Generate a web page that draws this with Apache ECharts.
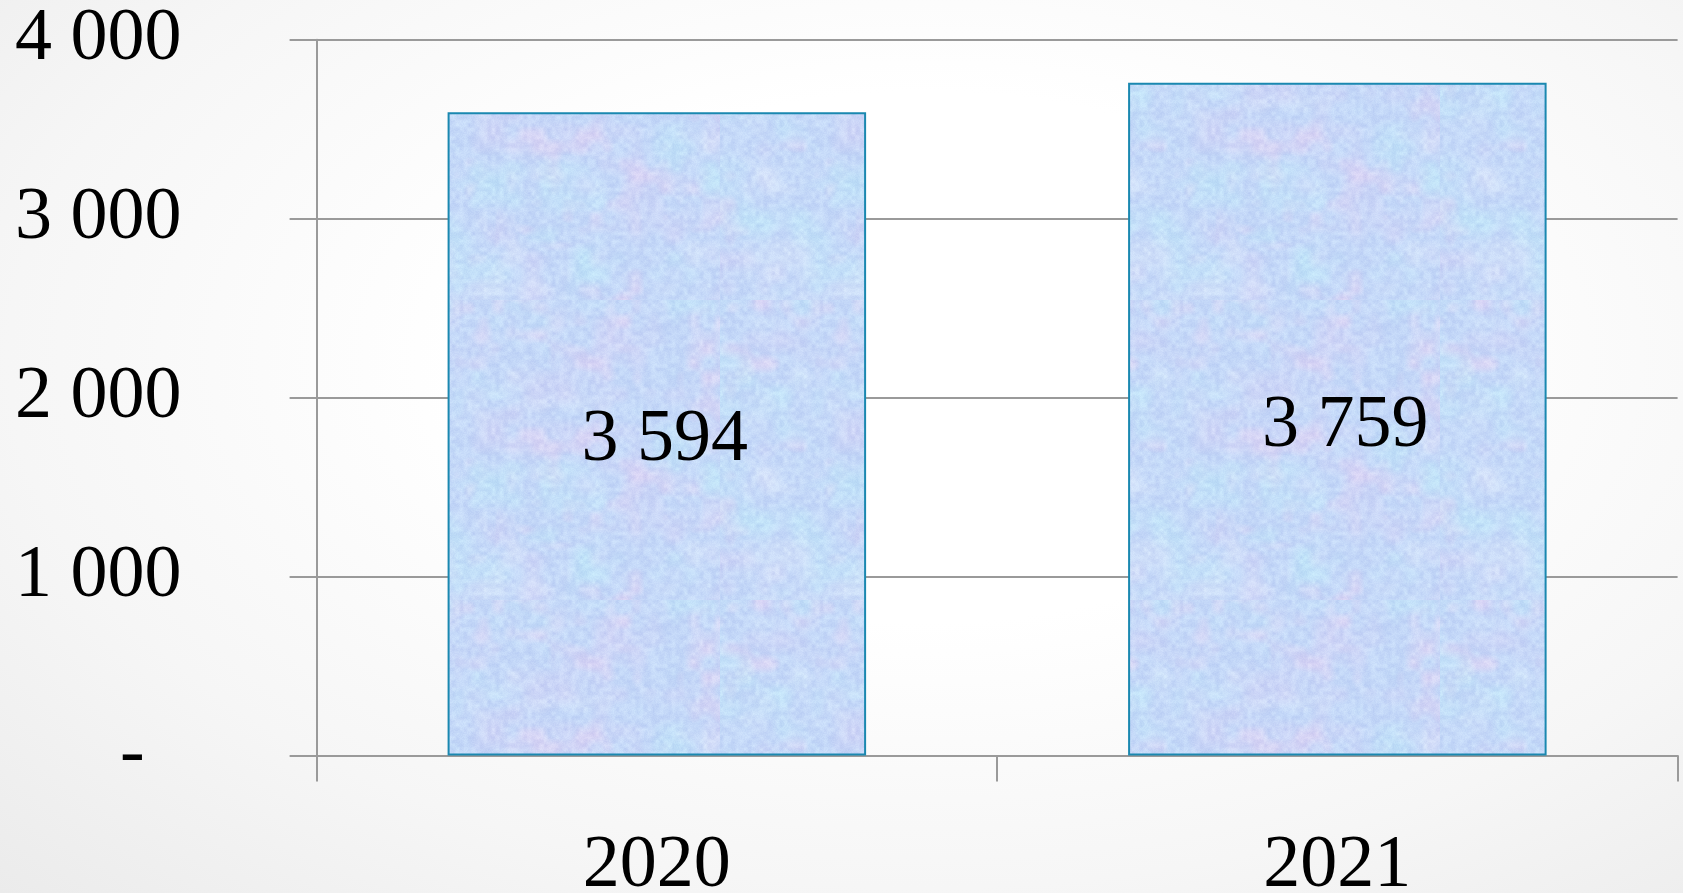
<!DOCTYPE html>
<html>
<head>
<meta charset="utf-8">
<script src="https://cdn.jsdelivr.net/npm/echarts@6/dist/echarts.min.js"></script>
<style>
html,body{margin:0;padding:0;width:1683px;height:893px;overflow:hidden;
background: radial-gradient(ellipse at 55% 40%, #ffffff 0%, #ffffff 35%, #f6f6f6 70%, #ebebeb 100%);}
#chart{width:1683px;height:893px;}
</style>
</head>
<body>
<div id="chart"></div>
<script>
const categories = ['2020', '2021'];
const values = [3594, 3759];
const yTicks = [0, 1000, 2000, 3000, 4000];

function makeTexture() {
  const c = document.createElement('canvas');
  const W = 360, H = 300;
  c.width = W; c.height = H;
  const ctx = c.getContext('2d');
  const img = ctx.createImageData(W, H);
  const cols = [
    [196, 216, 248], // blue
    [214, 208, 245], // lavender
    [232, 210, 242], // pink
    [190, 232, 248], // cyan
    [222, 232, 250]  // pale
  ];
  function hash(x, y) {
    const s = Math.sin(x * 12.9898 + y * 78.233) * 43758.5453;
    return s - Math.floor(s);
  }
  function smooth(x, y, s) {
    const xi = Math.floor(x / s), yi = Math.floor(y / s);
    const fx = x / s - xi, fy = y / s - yi;
    const ux = fx * fx * (3 - 2 * fx), uy = fy * fy * (3 - 2 * fy);
    const a = hash(xi, yi), b = hash(xi + 1, yi), c2 = hash(xi, yi + 1), d = hash(xi + 1, yi + 1);
    return a + (b - a) * ux + (c2 - a) * uy + (a - b - c2 + d) * ux * uy;
  }
  for (let y = 0; y < H; y++) {
    for (let x = 0; x < W; x++) {
      const a = smooth(x, y, 45) * 0.6 + smooth(x + 100, y + 50, 18) * 0.4;
      const b = smooth(x + 300, y + 200, 38) * 0.6 + smooth(x + 17, y + 91, 14) * 0.4;
      const g = hash(x, y) - 0.5;
      const g2 = smooth(x + 7, y + 3, 4) - 0.5;
      let r0 = cols[0][0], g0 = cols[0][1], b0 = cols[0][2];
      const t1 = Math.max(0, (a - 0.55) * 1.6);   // lavender
      const t2 = Math.max(0, (b - 0.62) * 1.8);   // pink
      const t3 = Math.max(0, (0.42 - a) * 1.8);   // cyan
      const t4 = Math.max(0, (0.4 - b) * 1.4);    // pale
      const mix = [[t1, cols[1]], [t2, cols[2]], [t3, cols[3]], [t4, cols[4]]];
      for (const [t, col] of mix) {
        const tt = Math.min(1, t);
        r0 += (col[0] - r0) * tt; g0 += (col[1] - g0) * tt; b0 += (col[2] - b0) * tt;
      }
      const n = g * 8 + g2 * 18;
      const i = (y * W + x) * 4;
      img.data[i] = Math.max(0, Math.min(255, r0 + n));
      img.data[i + 1] = Math.max(0, Math.min(255, g0 + n));
      img.data[i + 2] = Math.max(0, Math.min(255, b0 + n * 0.4));
      img.data[i + 3] = 255;
    }
  }
  ctx.putImageData(img, 0, 0);
  return c;
}

const FONT = '"Liberation Serif", "DejaVu Serif", serif';
const chart = echarts.init(document.getElementById('chart'), null, {renderer: 'canvas'});
const texture = makeTexture();

function fmt(v) {
  if (v === 0) return '-  ';
  return String(v).replace(/\B(?=(\d{3})+(?!\d))/g, ' ');
}

chart.setOption({
  backgroundColor: 'transparent',
  animation: false,
  grid: {left: 316.6, right: 5.4, top: 39.7, bottom: 137.4, containLabel: false, outerBoundsMode: 'none'},
  xAxis: {
    type: 'category',
    data: categories,
    boundaryGap: true,
    axisLine: {show: true, lineStyle: {color: '#9a9a9a', width: 2}},
    axisTick: {show: true, length: 26, lineStyle: {color: '#9a9a9a', width: 2}},
    axisLabel: {color: '#000', fontFamily: FONT, fontSize: 74, margin: 74}
  },
  yAxis: {
    type: 'value',
    min: yTicks[0],
    max: yTicks[yTicks.length - 1],
    interval: 1000,
    axisLine: {show: true, lineStyle: {color: '#9a9a9a', width: 2}},
    axisTick: {show: true, length: 27, lineStyle: {color: '#9a9a9a', width: 2}},
    splitLine: {show: true, lineStyle: {color: '#9a9a9a', width: 2}},
    axisLabel: {color: '#000', fontFamily: FONT, fontSize: 74, margin: 135, formatter: fmt}
  },
  series: [{
    type: 'bar',
    data: values,
    barWidth: '61.5%',
    itemStyle: {
      color: {image: texture, repeat: 'repeat'},
      borderColor: '#1a88b0',
      borderWidth: 2
    },
    label: {
      show: true,
      position: 'inside',
      offset: [8, 7],
      color: '#000',
      fontFamily: FONT,
      fontSize: 74,
      formatter: p => fmt(p.value)
    }
  }]
});
</script>
</body>
</html>
